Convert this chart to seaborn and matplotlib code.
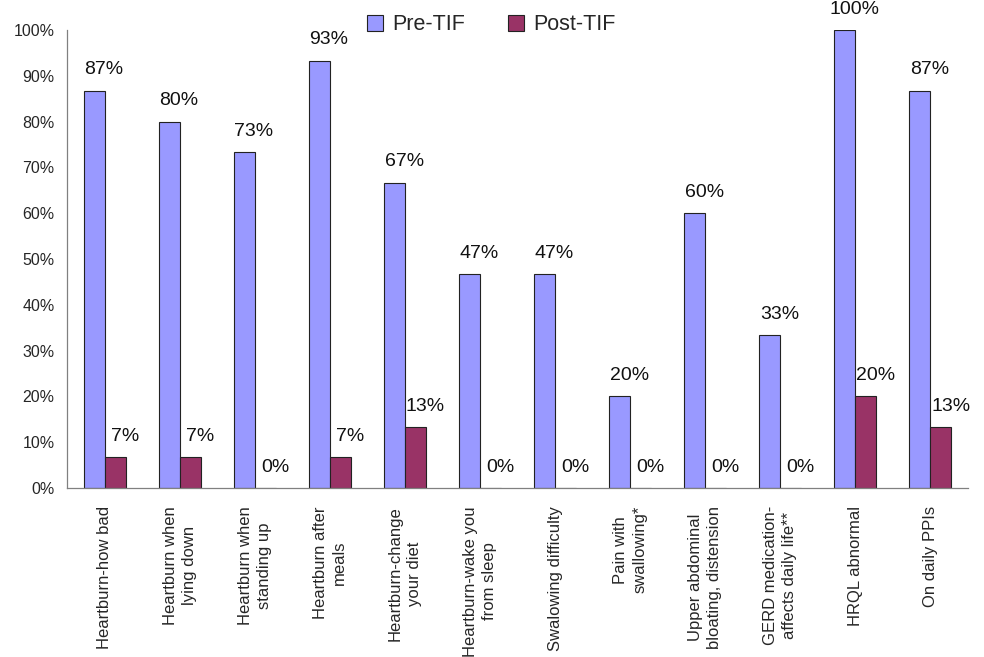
import matplotlib
matplotlib.use("Agg")
import matplotlib.pyplot as plt
from matplotlib.ticker import FixedLocator, PercentFormatter
from matplotlib.lines import Line2D
import seaborn as sns
import pandas as pd
import numpy as np

categories = [
    "Heartburn-how bad",
    "Heartburn when\nlying down",
    "Heartburn when\nstanding up",
    "Heartburn after\nmeals",
    "Heartburn-change\nyour diet",
    "Heartburn-wake you\nfrom sleep",
    "Swalowing difficulty",
    "Pain with\nswallowing*",
    "Upper abdominal\nbloating, distension",
    "GERD medication-\naffects daily life**",
    "HRQL abnormal",
    "On daily PPIs",
]
pre_tif = [86.7, 80.0, 73.3, 93.3, 66.7, 46.7, 46.7, 20.0, 60.0, 33.3, 100.0, 86.7]
post_tif = [6.7, 6.7, 0.0, 6.7, 13.3, 0.0, 0.0, 0.0, 0.0, 0.0, 20.0, 13.3]
series = ["Pre-TIF", "Post-TIF"]
colors = {"Pre-TIF": "#9999FF", "Post-TIF": "#993366"}

df = pd.DataFrame({
    "category": categories * 2,
    "value": pre_tif + post_tif,
    "series": [series[0]] * len(categories) + [series[1]] * len(categories),
})

sns.set_style("white")
plt.rcParams["font.family"] = ["Liberation Sans", "DejaVu Sans"]

fig = plt.figure(figsize=(9.84, 6.57), dpi=100)
ax = fig.add_axes([67 / 984, 1 - 488 / 657, (968 - 67) / 984, (488 - 30) / 657])

sns.barplot(data=df, x="category", y="value", hue="series", palette=colors,
            order=categories, hue_order=series, width=0.56, gap=0,
            saturation=1, edgecolor="#222222", linewidth=0.8, ax=ax, legend=False)

ax.set_ylim(0, 100)
ax.set_xlim(-0.5, len(categories) - 0.5)
ax.yaxis.set_major_locator(FixedLocator(np.arange(0, 101, 10)))
ax.yaxis.set_major_formatter(PercentFormatter(decimals=0))
ax.set_xlabel("")
ax.set_ylabel("")

# x ticks: labels at centers, tick marks at boundaries
ax.set_xticks(range(len(categories)))
ax.set_xticklabels(categories, rotation=90, ha="center", va="top",
                   multialignment="center", fontsize=12, linespacing=1.35)
ax.tick_params(axis="x", which="major", length=0, pad=13)
ax.set_xticks(np.arange(-0.5, len(categories), 1.0), minor=True)
ax.tick_params(axis="x", which="minor", length=6, width=0.8, color="#808080",
               direction="inout")
ax.tick_params(axis="y", which="major", length=5, width=0.8, color="#808080",
               direction="out", labelsize=11.5, pad=4)

for s in ["top", "right"]:
    ax.spines[s].set_visible(False)
for s in ["left", "bottom"]:
    ax.spines[s].set_color("#808080")
    ax.spines[s].set_linewidth(0.9)

# data labels
for cont, vals in zip(ax.containers, [pre_tif, post_tif]):
    anns = ax.bar_label(cont, labels=[f"{round(v):d}%" for v in vals],
                        padding=9, fontsize=14, color="#111111")
    for a in anns:
        a.xyann = (7, 9)
        a.set_annotation_clip(False)

handles = [Line2D([0], [0], marker="s", linestyle="none", markersize=11,
                  markerfacecolor=colors[s], markeredgecolor="#222222",
                  markeredgewidth=0.8) for s in series]
fig.legend(handles, series, loc="center", bbox_to_anchor=(490 / 984, 1 - 25 / 657),
           ncol=2, frameon=False, fontsize=15.5, handletextpad=0.3,
           columnspacing=1.9, handlelength=1.0)

fig.savefig("out.png", dpi=100)
